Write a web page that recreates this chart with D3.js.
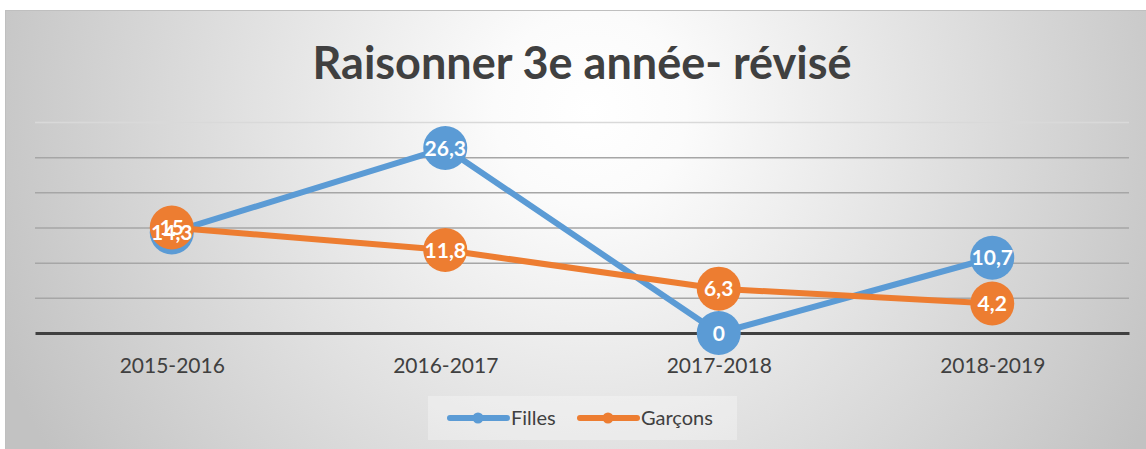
<!DOCTYPE html>
<meta charset="utf-8">
<style>
body{
  margin: 0;
  background: #fff;
}
svg text{
  font-family: Lato, "Open Sans", sans-serif;
}
</style>
<body>
<div id="chart"></div>
<script src="https://cdn.jsdelivr.net/npm/d3@7"></script>
<script>
var categories = ['2015-2016', '2016-2017', '2017-2018', '2018-2019']
var filles = [14.3, 26.3, 0, 10.7]
var garcons = [15, 11.8, 6.3, 4.2]
var gridTicks = [5, 10, 15, 20, 25, 30]
var seriesNames = ['Filles', 'Garçons']
var seriesColors = ['#5B9BD5', '#ED7D31']
var title = 'Raisonner 3e année- révisé'

var width = 1146, height = 449

var svg = d3.select('#chart').append('svg')
    .attr('width', width)
    .attr('height', height)

// background gradient, light in the middle, grey at the edges
var grad = svg.append('defs').append('radialGradient')
    .attr('id', 'bg')
    .attr('gradientUnits', 'userSpaceOnUse')
    .attr('cx', 590).attr('cy', 110).attr('r', 640)
grad.append('stop').attr('offset', 0).attr('stop-color', '#ffffff')
grad.append('stop').attr('offset', 0.15).attr('stop-color', '#fbfbfb')
grad.append('stop').attr('offset', 1).attr('stop-color', '#c2c2c2')

svg.append('rect')
    .attr('x', 5.5).attr('y', 10.5)
    .attr('width', width - 5).attr('height', height - 10)
    .attr('fill', 'url(#bg)')
    .attr('stroke', '#bfbfbf')

svg.append('text')
    .attr('x', 582).attr('y', 79)
    .attr('text-anchor', 'middle')
    .style('font-size', '45px')
    .style('font-weight', 'bold')
    .style('fill', '#404040')
    .text(title)

var x = d3.scalePoint()
    .domain(categories)
    .range([35, 1129])
    .padding(0.5)

var y = d3.scaleLinear()
    .domain([0, 30])
    .range([333, 122])

// gridlines
var grid = svg.append('g')
    .attr('transform', 'translate(35,0)')
    .call(d3.axisLeft(y).tickValues(gridTicks).tickSize(-1094).tickFormat(''))
grid.select('.domain').remove()
grid.selectAll('line')
    .attr('stroke', function(d){ return d == 30 ? '#d9d9d9' : '#a6a6a6' })
    .attr('stroke-width', 1.5)

// category axis
var xAxis = svg.append('g')
    .attr('transform', 'translate(0,333)')
    .call(d3.axisBottom(x).tickSize(0).tickSizeOuter(0))
xAxis.select('.domain')
    .attr('stroke', '#404040')
    .attr('stroke-width', 3)
xAxis.selectAll('text')
    .attr('y', 40).attr('dy', 0)
    .style('font-size', '21px')
    .style('font-family', 'Lato, sans-serif')
    .style('fill', '#404040')

var line = d3.line()
    .x(function(d, i){ return x(categories[i]) })
    .y(function(d){ return y(d) })

var series = [filles, garcons]

series.forEach(function(vals, s){
  var g = svg.append('g')
  g.append('path')
      .datum(vals)
      .attr('d', line)
      .attr('fill', 'none')
      .attr('stroke', seriesColors[s])
      .attr('stroke-width', 6)
      .attr('stroke-linejoin', 'round')
  g.selectAll('circle')
      .data(vals)
    .enter().append('circle')
      .attr('cx', function(d, i){ return x(categories[i]) })
      .attr('cy', function(d){ return y(d) })
      .attr('r', 22)
      .attr('fill', seriesColors[s])
})

var fmt = function(d){ return String(d).replace('.', ',') }

series.forEach(function(vals){
  svg.append('g').selectAll('text')
      .data(vals)
    .enter().append('text')
      .attr('x', function(d, i){ return x(categories[i]) })
      .attr('y', function(d){ return y(d) })
      .attr('dy', '0.36em')
      .attr('text-anchor', 'middle')
      .style('font-size', '21px')
      .style('font-weight', 'bold')
      .style('fill', '#fff')
      .text(fmt)
})

// legend
var legend = svg.append('g')
legend.append('rect')
    .attr('x', 428).attr('y', 396)
    .attr('width', 309).attr('height', 44)
    .attr('fill', '#ffffff')
    .attr('fill-opacity', 0.3)

var legendX = [450, 580]
seriesNames.forEach(function(name, s){
  var lx = legendX[s]
  legend.append('line')
      .attr('x1', lx).attr('x2', lx + 57)
      .attr('y1', 418).attr('y2', 418)
      .attr('stroke', seriesColors[s])
      .attr('stroke-width', 6)
      .attr('stroke-linecap', 'round')
  legend.append('circle')
      .attr('cx', lx + 28).attr('cy', 418)
      .attr('r', 5.5)
      .attr('fill', seriesColors[s])
  legend.append('text')
      .attr('x', lx + 61).attr('y', 425)
      .style('font-size', '20px')
      .style('fill', '#404040')
      .text(name)
})
</script>
